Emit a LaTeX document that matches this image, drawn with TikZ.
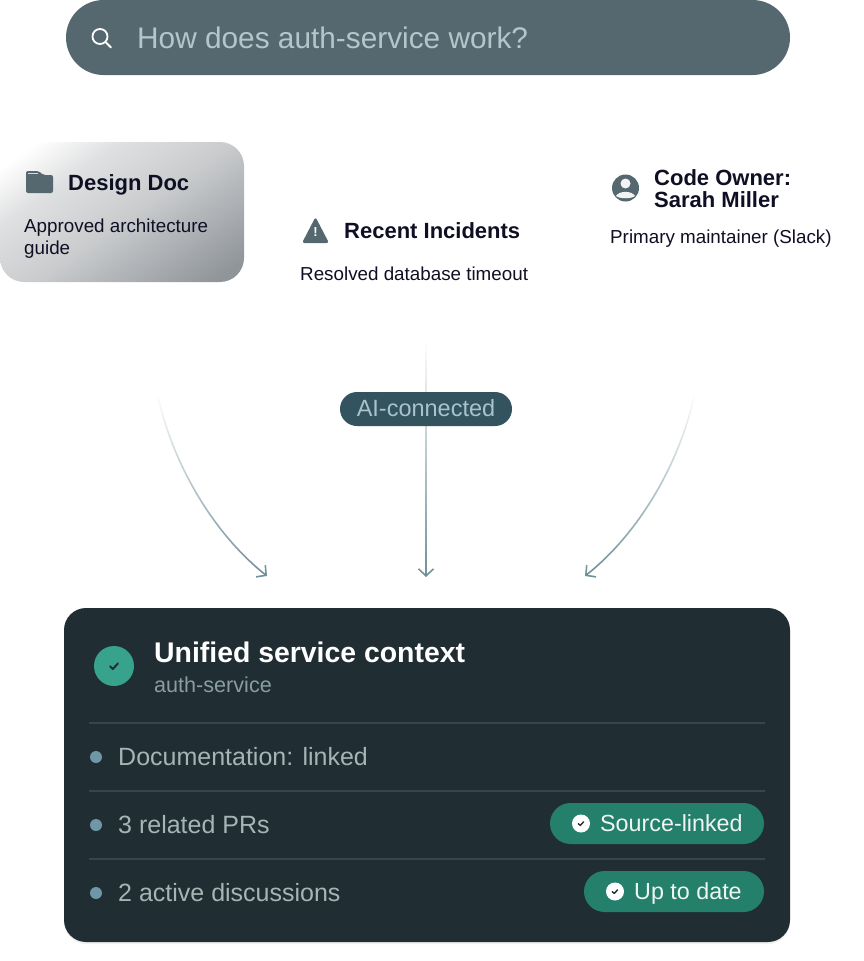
\documentclass[tikz,border=0pt]{standalone}
\usepackage{xcolor}
\usepackage{fontspec}
\setmainfont{Liberation Sans}
\usepackage{tikz}
\usetikzlibrary{arrows.meta, positioning, fadings, shadows}
\definecolor{slatebar}{HTML}{56686F}
\definecolor{barword}{HTML}{B1C7CC}
\definecolor{inkdark}{HTML}{0F0F24}
\definecolor{panelbg}{HTML}{202D32}
\definecolor{panelrule}{HTML}{36464B}
\definecolor{panelword}{HTML}{A5B5B5}
\definecolor{subword}{HTML}{8A9DA1}
\definecolor{dotblue}{HTML}{6F97A6}
\definecolor{badgegreen}{HTML}{25806B}
\definecolor{checkgreen}{HTML}{38A38D}
\definecolor{pillbg}{HTML}{33535F}
\definecolor{pillword}{HTML}{A9C3CB}
\definecolor{flowcol}{HTML}{6F8F98}
\definecolor{cardlight}{HTML}{DFE0E1}
\definecolor{cardmid}{HTML}{C9CBCD}
\definecolor{cardend}{HTML}{90959A}
\tikzfading[name=fadedown, top color=transparent!100, bottom color=transparent!0]
\pgfdeclareverticalshading{cardfade}{100bp}{color(0bp)=(cardend); color(20bp)=(cardend); color(48bp)=(cardmid); color(66bp)=(cardlight); color(79bp)=(white); color(100bp)=(white)}

\begin{document}
\begin{tikzpicture}[
    x=1pt, y=-1pt,
    plain/.style={inner sep=0pt, anchor=base west},
    title/.style={plain, font=\bfseries\fontsize{22}{22}\selectfont, text=inkdark},
    body/.style={plain, font=\fontsize{18.8}{18.8}\selectfont, text=inkdark},
    rowword/.style={plain, font=\fontsize{25}{25}\selectfont, text=panelword},
    rowdot/.style={circle, fill=dotblue, inner sep=0pt, minimum size=12pt},
    rowrule/.style={panelrule, line width=1.2pt},
    badge/.style={inner sep=0pt, fill=badgegreen, rounded corners=20.5pt, minimum height=41pt},
    badgeword/.style={plain, font=\fontsize{23.3}{23.3}\selectfont, text=white!92!badgegreen},
    flowline/.style={flowcol, line width=1.6pt, path fading=fadedown,
                     -{Straight Barb[length=7pt, width=15pt]}},
    tick/.pic={\draw[line cap=round, line join=round, #1] (-4,0.3) -- (-1.2,3) -- (4,-2.6);}
]
\useasboundingbox (0,0) rectangle (864,961);
% search bar
\node[inner sep=0pt, fill=slatebar, rounded corners=37.5pt, minimum width=724pt, minimum height=75pt] (searchbar) at (428,37.5) {};
\node[plain, font=\fontsize{29.8}{29.8}\selectfont, text=barword] (question) at (137,48) {How does auth-service work?};
\node[circle, draw=white, line width=1.8pt, inner sep=0pt, minimum size=15pt] (lens) at (100,36.5) {};
\draw[white, line width=1.8pt, line cap=round] (lens.south east) -- ++(5,5);
% three sources
\node[inner sep=0pt, rounded corners=24pt, minimum width=244pt, minimum height=140pt,
      shading=cardfade, shading angle=35] (designcard) at (122,212) {};
\fill[slatebar, rounded corners=2pt] (26,193) -- (26,171) -- (39,171) -- (43,175) -- (53,175) -- (53,193) -- cycle;
\draw[white!75!slatebar, line width=0.8pt] (28,173.5) -- (38,173.5);
\node[title] (designtitle) at (68,190) {Design Doc};
\node[body] (designline) at (24,232) {Approved architecture};
\node[body] (designguide) at (24,254) {guide};

\fill[slatebar, rounded corners=2.5pt] (315.5,217) -- (329,243) -- (302,243) -- cycle;
\node[inner sep=0pt, font=\bfseries\fontsize{13}{13}\selectfont, text=white] (warnmark) at (315.5,232.5) {!};
\node[title] (incidenttitle) at (344,238) {Recent Incidents};
\node[body] (incidentline) at (300,280) {Resolved database timeout};

\node[circle, fill=slatebar, inner sep=0pt, minimum size=27pt] (ownericon) at (625.5,188) {};
\fill[white!92!slatebar] (625.5,183.5) circle (5pt);
\fill[white!92!slatebar] (616,196) .. controls (619,190.5) and (632,190.5) .. (635,196) .. controls (631,199) and (620,199) .. (616,196) -- cycle;
\node[title] (ownertitle) at (654,185) {Code Owner:};
\node[title] (ownername) at (654,207) {Sarah Miller};
\node[body] (ownerline) at (610,243) {Primary maintainer (Slack)};
% connectors
\coordinate (docout) at (157,392);
\coordinate (docin) at (267,576);
\coordinate (incout) at (426,340);
\coordinate (incin) at (426,577);
\coordinate (ownout) at (695,392);
\coordinate (ownin) at (585,576);
\draw[flowline] (docout) .. controls (172,465) and (215,535) .. (docin);
\draw[flowline] (incout) ++(-20,0) ++(40,0) (incout) -- (incin);
\draw[flowline] (ownout) .. controls (680,465) and (637,535) .. (ownin);
\node[inner sep=0pt, fill=pillbg, rounded corners=17pt, minimum width=172pt, minimum height=34pt] (aipill) at (426,409) {};
\node[inner sep=0pt, font=\fontsize{23.5}{23.5}\selectfont, text=pillword] (aiword) at (426,408) {AI-connected};
% result panel
\node[inner sep=0pt, fill=panelbg, rounded corners=22pt, minimum width=726pt, minimum height=334pt,
      drop shadow={opacity=0.12, shadow xshift=0pt, shadow yshift=-2pt}] (panel) at (427,775) {};
\node[circle, fill=checkgreen, inner sep=0pt, minimum size=40pt] (okmark) at (114,666) {};
\pic at (okmark) {tick={panelbg, line width=2pt}};
\node[plain, font=\bfseries\fontsize{28.4}{28.4}\selectfont, text=white] (paneltitle) at (154,662) {Unified service context};
\node[plain, font=\fontsize{21.6}{21.6}\selectfont, text=subword] (panelsub) at (154,692) {auth-service};
\draw[rowrule] (89,723) -- (765,723);
\draw[rowrule] (89,791) -- (765,791);
\draw[rowrule] (89,859) -- (765,859);
\node[rowdot] (dota) at (96,757) {};
\node[rowdot] (dotb) at (96,825) {};
\node[rowdot] (dotc) at (96,893) {};
\node[rowword] (rowa) at (118,765) {Documentation: linked};
\node[rowword] (rowb) at (118,833) {3 related PRs};
\node[rowword] (rowc) at (118,901) {2 active discussions};
\node[badge, minimum width=214pt] (srcbadge) at (657,823.5) {};
\node[badge, minimum width=180pt] (datebadge) at (674,891.5) {};
\node[circle, fill=white, inner sep=0pt, minimum size=18pt] (srctick) at (581,823.5) {};
\node[circle, fill=white, inner sep=0pt, minimum size=18pt] (datetick) at (615,891.5) {};
\pic[scale=0.65] at (srctick) {tick={panelbg, line width=1.4pt}};
\pic[scale=0.65] at (datetick) {tick={panelbg, line width=1.4pt}};
\node[badgeword] (srcword) at (600,831) {Source-linked};
\node[badgeword] (dateword) at (634,899) {Up to date};
\end{tikzpicture}
\end{document}
